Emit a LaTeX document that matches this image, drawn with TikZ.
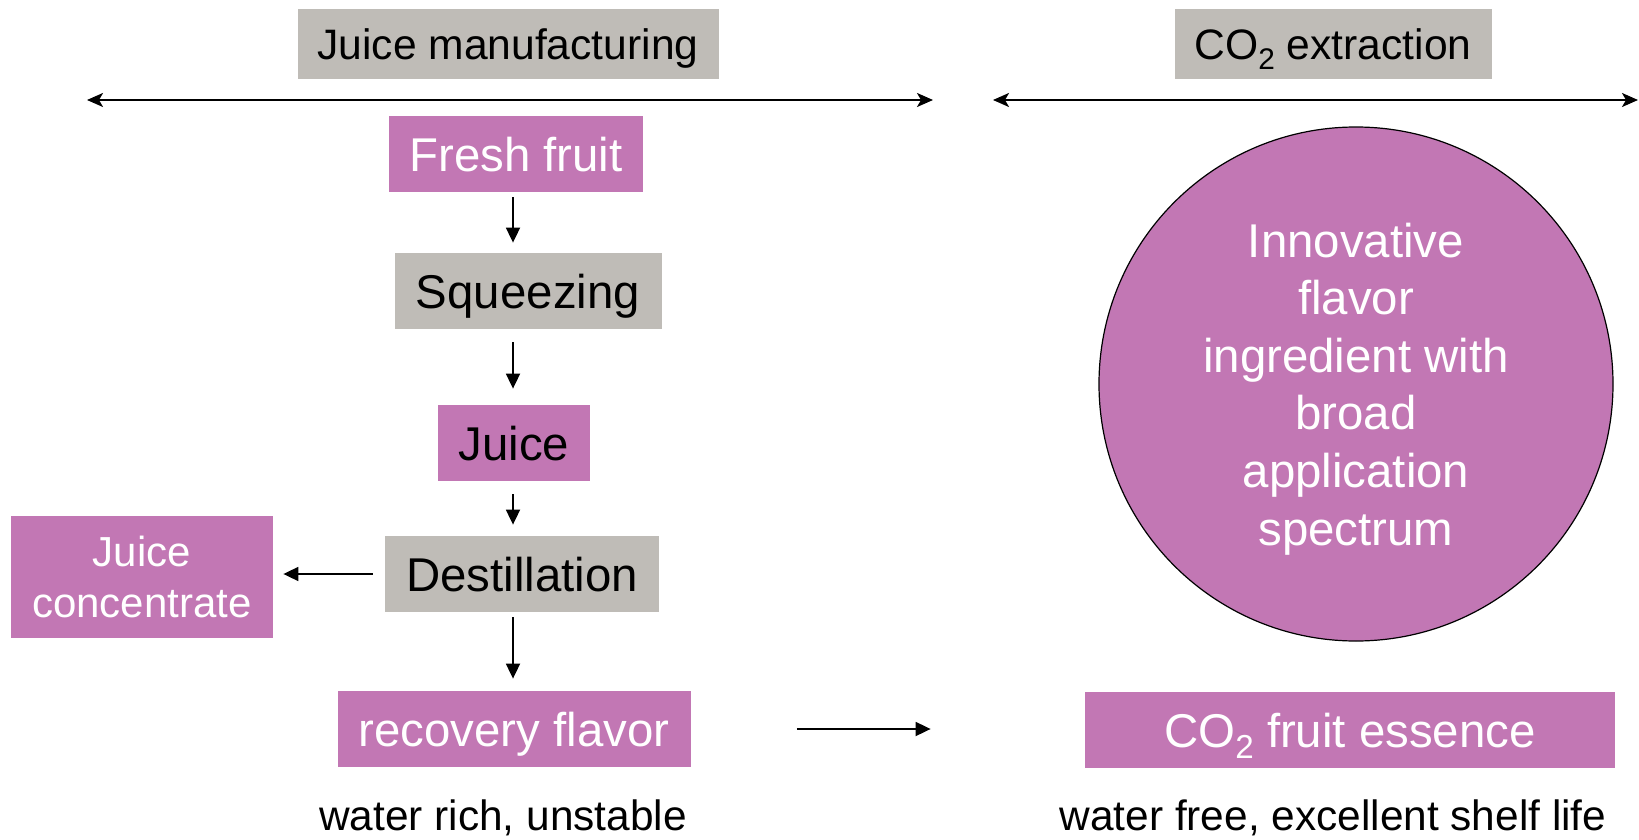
\documentclass[tikz,border=0pt]{standalone}
\usepackage{fontspec}
\setmainfont{Liberation Sans}
\usetikzlibrary{arrows.meta}
\definecolor{orchid}{RGB}{194,119,180}
\definecolor{stone}{RGB}{191,188,183}
\newcommand{\cotwo}{\raisebox{-.24em}{\scalebox{.7}{2}}}
\begin{document}
\begin{tikzpicture}[x=0.5pt,y=-0.5pt,
    pinkbox/.style={fill=orchid, text=white, inner sep=0pt, minimum height=38pt, text height=17.3pt, text depth=0.3pt, font=\fontsize{23.7}{28.8}\selectfont},
    greybox/.style={fill=stone, inner sep=0pt, minimum height=38pt, text height=17.3pt, text depth=0.3pt, font=\fontsize{23.7}{28.8}\selectfont},
    headbox/.style={fill=stone, inner sep=0pt, minimum height=35pt, text height=15.5pt, text depth=0.3pt, font=\fontsize{21.3}{25}\selectfont},
    note/.style={inner sep=0pt, font=\fontsize{21.2}{25}\selectfont},
    arr/.style={-{Triangle[length=7.5pt,width=7pt]}, line width=0.9pt},
    span/.style={{Stealth[length=8pt,width=7pt,inset=2pt]}-{Stealth[length=8pt,width=7pt,inset=2pt]}, line width=1pt}]
    \useasboundingbox (0,0) rectangle (1639,840);

    % headers
    \node[headbox, minimum width=210.5pt] (HJ) at (508,44) {Juice manufacturing};
    \node[headbox, minimum width=158.5pt] (HC) at (1333,44) {CO\cotwo{} extraction};
    \coordinate (la) at (87,100);
    \coordinate (lb) at (933,100);
    \coordinate (ra) at (993,100);
    \coordinate (rb) at (1638,100);
    \draw[span] (la) -- (lb);
    \draw[span] (ra) -- (rb);

    % juice line
    \node[pinkbox, minimum width=127pt] (FF) at (516,154) {Fresh fruit};
    \node[greybox, minimum width=133.5pt] (SQ) at (528,291) {Squeezing};
    \node[pinkbox, text=black, minimum width=76pt] (JU) at (514,443) {Juice};
    \node[greybox, minimum width=137pt] (DS) at (522,574) {Destillation};
    \node[pinkbox, minimum width=131pt, minimum height=61pt, align=center, text height=, text depth=,
          font=\fontsize{21}{25.6}\selectfont] (JC) at (142,577) {Juice\\concentrate};
    \node[pinkbox, minimum width=176.5pt] (RF) at (514,729) {recovery flavor};
    \node[note] (WR) at (503,818) {water rich, unstable};

    % CO2 side
    \node[pinkbox, circle, draw=black, line width=0.6pt, minimum size=257pt, align=center, text height=, text depth=0pt] (IN) at (1356,384)
        {Innovative\\flavor\\ingredient with\\broad\\application\\spectrum};
    \node[pinkbox, minimum width=265pt] (CF) at (1350,730) {CO\cotwo{} fruit essence};
    \node[note] (WF) at (1333,818) {water free, excellent shelf life};

    \coordinate (axis) at (513,0);
    \draw[arr, shorten <=2.5pt, shorten >=5pt] (FF.south -| axis) -- (SQ.north -| axis);
    \draw[arr, shorten <=6.5pt, shorten >=8pt] (SQ.south -| axis) -- (JU.north -| axis);
    \draw[arr, shorten <=6.5pt, shorten >=5.5pt] (JU.south -| axis) -- (DS.north -| axis);
    \draw[arr, shorten <=2.5pt, shorten >=6pt] (DS.south -| axis) -- (RF.north -| axis);
    \draw[arr, shorten <=6pt, shorten >=5pt] (DS.west) -- (DS.west -| JC.east);
    \draw[arr, shorten <=53pt, shorten >=77pt] (RF.east) -- (RF.east -| CF.west);
\end{tikzpicture}
\end{document}
